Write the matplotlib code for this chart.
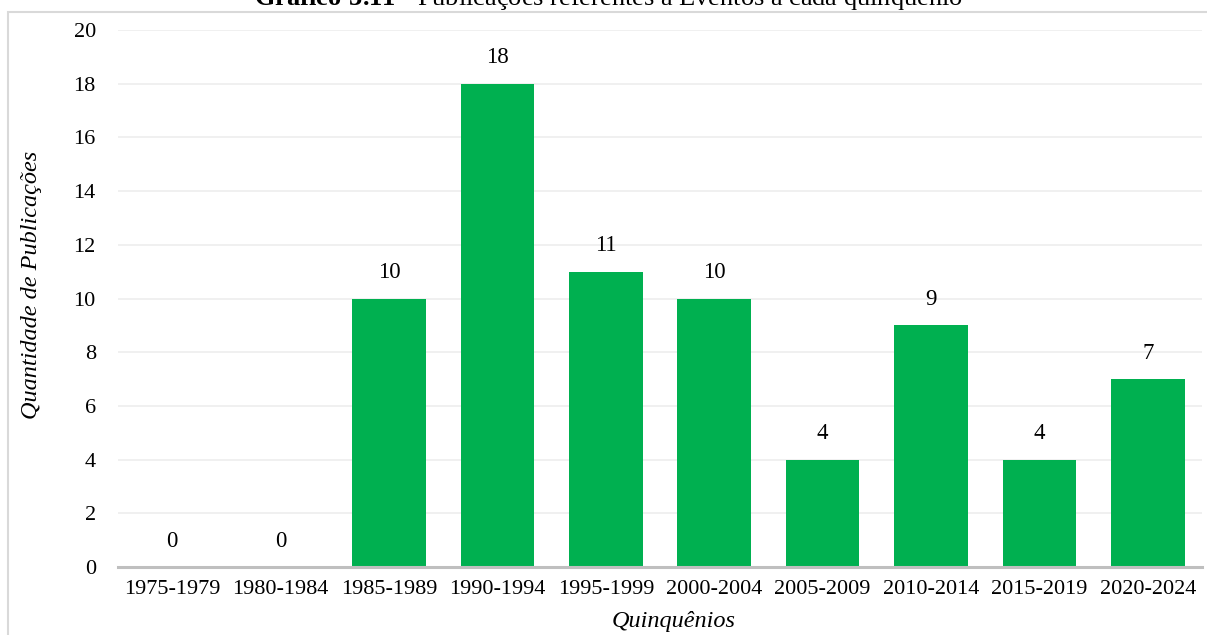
import matplotlib
matplotlib.use("Agg")
import matplotlib.pyplot as plt
from matplotlib.patches import Rectangle

categories = ["1975-1979", "1980-1984", "1985-1989", "1990-1994", "1995-1999",
              "2000-2004", "2005-2009", "2010-2014", "2015-2019", "2020-2024"]
values = [0, 0, 10, 18, 11, 10, 4, 9, 4, 7]
y_ticks = [0, 2, 4, 6, 8, 10, 12, 14, 16, 18, 20]

plt.rcParams["font.family"] = ["Liberation Serif", "DejaVu Serif"]
plt.rcParams["mathtext.fontset"] = "custom"
plt.rcParams["mathtext.rm"] = "Liberation Serif"
plt.rcParams["mathtext.bf"] = "Liberation Serif:bold"

W, H = 1207, 635
fig = plt.figure(figsize=(W / 100, H / 100), dpi=100)

# outer chart frame (light gray)
fig.add_artist(Rectangle((7.5 / W, -0.1), 1.2, (H - 12) / H + 0.1,
                         transform=fig.transFigure, fill=False,
                         edgecolor="#D9D9D9", linewidth=1.5))

ax = fig.add_axes([118 / W, 1 - 567 / H, (1202 - 118) / W, (567 - 30) / H])
x = list(range(len(categories)))
ax.bar(x, values, width=0.68, color="#00B050", zorder=3)

for xi, v in zip(x, values):
    ax.annotate(str(v), (xi, v), xytext=(0, 11), textcoords="offset points",
                ha="center", va="bottom", fontsize=16.5, color="#000000")

ax.set_xlim(-0.5, len(categories) - 0.5)
ax.set_ylim(0, 20)
ax.set_yticks(y_ticks)
ax.set_xticks(x)
ax.set_xticklabels(categories)
ax.grid(axis="y", color="#EDEDED", linewidth=1.2, zorder=0)
for side in ["top", "right", "left"]:
    ax.spines[side].set_visible(False)
ax.spines["bottom"].set_color("#BFBFBF")
ax.spines["bottom"].set_linewidth(2.2)
ax.spines["bottom"].set_zorder(4)
ax.tick_params(axis="both", length=0, labelsize=16, colors="#000000")
ax.tick_params(axis="y", pad=16)
ax.tick_params(axis="x", pad=9)

ax.set_xlabel("Quinquênios", fontstyle="italic", fontsize=17.5)
ax.set_ylabel("Quantidade de Publicações", fontstyle="italic", fontsize=17.5)
ax.xaxis.set_label_coords((674 - 118) / (1202 - 118), -(622 - 567) / (567 - 30))
ax.yaxis.set_label_coords(-(118 - 32) / (1202 - 118), (567 - 285) / (567 - 30))
ax.xaxis.label.set_va("center")
ax.yaxis.label.set_va("center")

fig.text(608 / W, 1 - 5 / H,
         r"$\mathbf{Gráfico\ 3.11}$ - Publicações referentes a Eventos a cada quinquênio",
         ha="center", va="baseline", fontsize=19)

fig.savefig("out.png", dpi=100, facecolor="white")
